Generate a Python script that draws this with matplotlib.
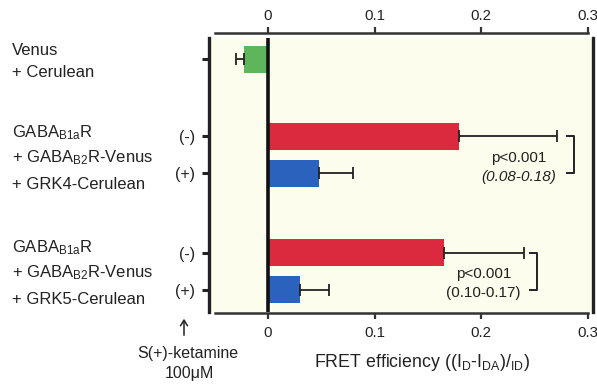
import matplotlib
matplotlib.use("Agg")
import matplotlib.pyplot as plt

plt.rcParams['font.family'] = ['Liberation Sans', 'DejaVu Sans']
plt.rcParams['mathtext.fontset'] = 'custom'
plt.rcParams['mathtext.rm'] = 'Liberation Sans'
plt.rcParams['mathtext.it'] = 'Liberation Sans:italic'

# ---- data ----
rows = ['Venus+Cerulean', 'GRK4 (-)', 'GRK4 (+)', 'GRK5 (-)', 'GRK5 (+)']
row_pos = [0.0, 2.08, 3.08, 5.22, 6.22]
fret = [-0.023, 0.179, 0.048, 0.165, 0.030]
err_low = [0.007, 0.0, 0.0, 0.0, 0.0]
err_high = [0.0, 0.092, 0.032, 0.075, 0.027]
colors = ['#5fb65a', '#db2a3d', '#2b62bd', '#db2a3d', '#2b62bd']
tick_labels = ['', '(-)', '(+)', '(-)', '(+)']
xticks = [0, 0.1, 0.2, 0.3]
xtick_labels = ['0', '0.1', '0.2', '0.3']
p_text = ['p<0.001', 'p<0.001']
ci_text = ['(0.08-0.18)', '(0.10-0.17)']

W, H = 597, 384
fig = plt.figure(figsize=(W / 100, H / 100), dpi=100)
fig.patch.set_facecolor('white')

def fx(px):
    return px / W

def fy(py):
    return 1 - py / H

ax = fig.add_axes([fx(209), fy(312), fx(593) - fx(209), fy(38) - fy(312)])
ax.set_facecolor('#fcfdec')
ax.set_xlim(-0.0554, 0.305)
ax.set_ylim(6.82, -0.57)

ax.barh(row_pos, fret, height=0.73, color=colors, edgecolor='none', zorder=2)
ax.errorbar(fret, row_pos, xerr=[err_low, err_high], fmt='none', ecolor='#222222',
            elinewidth=1.3, capsize=4, capthick=1.3, zorder=3)
ax.axvline(0, color='#111111', lw=2.6, zorder=4)

# spines
ax.spines['top'].set_visible(False)
ax.spines['bottom'].set_bounds(-0.05, 0.3)
ax.spines['bottom'].set_color('#333333')
ax.spines['bottom'].set_linewidth(1.8)
ax.spines['bottom'].set_position(('outward', 1))
for s in ['left', 'right']:
    ax.spines[s].set_color('#222222')
    ax.spines[s].set_linewidth(2.4)

ax.set_xticks(xticks)
ax.set_xticklabels(xtick_labels)
ax.tick_params(axis='x', top=False, labeltop=False, bottom=True, labelbottom=True,
               length=4, width=1.6, color='#333333', labelsize=10.8, labelcolor='#222222',
               pad=5)

sec = ax.secondary_xaxis(1.0 + 5 / 274)
sec.set_xticks(xticks)
sec.set_xticklabels(xtick_labels)
sec.tick_params(axis='x', length=4, width=1.6, color='#333333', labelsize=10.8,
                labelcolor='#222222', pad=3)
sec.spines['top'].set_bounds(-0.05, 0.3)
sec.spines['top'].set_color('#333333')
sec.spines['top'].set_linewidth(1.8)

ax.set_yticks(row_pos)
ax.set_yticklabels(tick_labels)
ax.tick_params(axis='y', left=True, right=False, length=5, width=2.2, color='#222222',
               labelsize=11.5, labelcolor='#222222', pad=5)

# significance brackets
pairs = [(1, 2, 0.287, 0.235, True), (3, 4, 0.2526, 0.202, False)]
for k, (i, j, bx, tx, ital) in enumerate(pairs):
    ya, yb = row_pos[i], row_pos[j]
    ax.plot([bx - 0.0065, bx, bx, bx - 0.0065], [ya, ya, yb, yb],
            color='#222222', lw=1.4, clip_on=False, zorder=5)
    ymid = (ya + yb) / 2
    ax.text(tx, ymid + 0.08, p_text[k], ha='center', va='center', fontsize=11,
            color='#222222')
    ax.text(tx, ymid + 0.6, ci_text[k], ha='center', va='center', fontsize=11,
            color='#222222', style='italic' if ital else 'normal')

# left group labels
tc = '#222222'
fs = 12
fig.text(fx(12), fy(55), 'Venus', fontsize=fs, color=tc, va='baseline')
fig.text(fx(12), fy(77), '+ Cerulean', fontsize=fs, color=tc, va='baseline')
for base, grk in [(137, 'GRK4'), (252, 'GRK5')]:
    fig.text(fx(12), fy(base), r'GABA$_{\mathrm{B1a}}$R', fontsize=fs, color=tc, va='baseline')
    fig.text(fx(12), fy(base + 25.5), r'+ GABA$_{\mathrm{B2}}$R-Venus', fontsize=fs, color=tc, va='baseline')
    fig.text(fx(12), fy(base + 52), '+ ' + grk + '-Cerulean', fontsize=fs, color=tc, va='baseline')

# ketamine arrow and label
fig.patches.append(matplotlib.patches.FancyArrowPatch(
    (fx(184), fy(338)), (fx(184), fy(316)), transform=fig.transFigure,
    arrowstyle='->,head_length=4,head_width=2.5', lw=1.1, color=tc))
fig.text(fx(188), fy(358), 'S(+)-ketamine', fontsize=11.5, color=tc, ha='center', va='baseline')
fig.text(fx(189), fy(378), '100\u03bcM', fontsize=11.5, color=tc, ha='center', va='baseline')

# x label
fig.text(fx(422), fy(367),
         r'FRET efficiency ((I$_{\mathrm{D}}$-I$_{\mathrm{DA}}$)/$_{\mathrm{ID}}$)',
         fontsize=12.8, color=tc, ha='center', va='baseline')

fig.savefig('out.png', dpi=100)
